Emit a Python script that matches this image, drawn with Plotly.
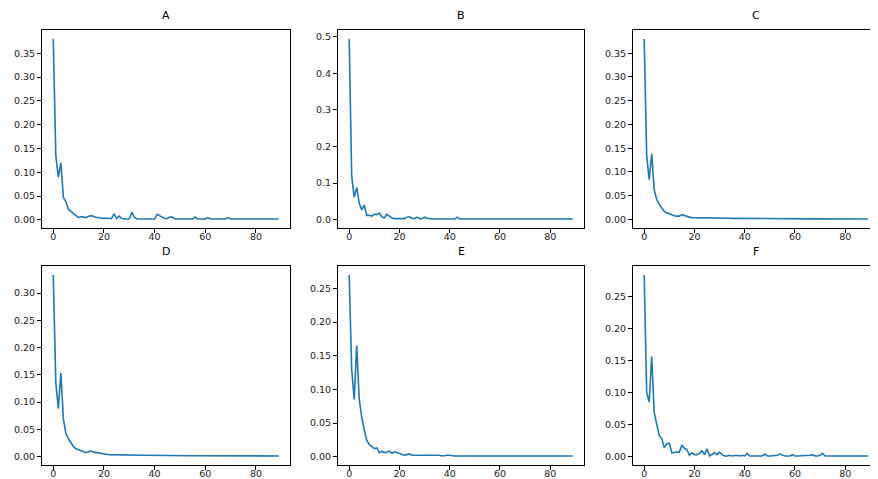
import plotly.graph_objects as go

LINE_COLOR = "#1f77b4"
FONT = "DejaVu Sans"

titles = ["A", "B", "C", "D", "E", "F"]
steps = list(range(90))

series_a = [
    0.380, 0.135, 0.090, 0.120, 0.047, 0.038, 0.022, 0.018, 0.013, 0.009,
    0.005, 0.007, 0.006, 0.005, 0.008, 0.009, 0.007, 0.005, 0.005, 0.003,
    0.004, 0.003, 0.003, 0.003, 0.013, 0.003, 0.008, 0.003, 0.002, 0.002,
    0.002, 0.016, 0.006, 0.002, 0.002, 0.002, 0.002, 0.002, 0.002, 0.002,
    0.002, 0.012, 0.009, 0.006, 0.003, 0.003, 0.006, 0.006, 0.002, 0.002,
    0.002, 0.002, 0.002, 0.002, 0.002, 0.002, 0.006, 0.002, 0.002, 0.002,
    0.002, 0.005, 0.002, 0.002, 0.002, 0.002, 0.002, 0.002, 0.002, 0.005,
    0.002, 0.002, 0.002, 0.002, 0.002, 0.002, 0.002, 0.002, 0.002, 0.002,
    0.002, 0.002, 0.002, 0.002, 0.002, 0.002, 0.002, 0.002, 0.002, 0.002,
]
series_b = [
    0.494, 0.120, 0.062, 0.088, 0.045, 0.027, 0.040, 0.012, 0.012, 0.010,
    0.015, 0.014, 0.018, 0.008, 0.005, 0.015, 0.010, 0.005, 0.003, 0.003,
    0.004, 0.003, 0.003, 0.007, 0.008, 0.004, 0.003, 0.007, 0.003, 0.003,
    0.007, 0.004, 0.002, 0.002, 0.002, 0.002, 0.002, 0.002, 0.002, 0.002,
    0.002, 0.002, 0.002, 0.007, 0.002, 0.002, 0.002, 0.002, 0.002, 0.002,
    0.002, 0.002, 0.002, 0.002, 0.002, 0.002, 0.002, 0.002, 0.002, 0.002,
    0.002, 0.002, 0.002, 0.002, 0.002, 0.002, 0.002, 0.002, 0.002, 0.002,
    0.002, 0.002, 0.002, 0.002, 0.002, 0.002, 0.002, 0.002, 0.002, 0.002,
    0.002, 0.002, 0.002, 0.002, 0.002, 0.002, 0.002, 0.002, 0.002, 0.002,
]
series_c = [
    0.380, 0.135, 0.084, 0.138, 0.062, 0.042, 0.032, 0.024, 0.017, 0.014,
    0.012, 0.009, 0.008, 0.007, 0.007, 0.010, 0.008, 0.006, 0.005, 0.004,
    0.004, 0.0035, 0.0033, 0.003, 0.003, 0.003, 0.003, 0.003, 0.003, 0.003,
    0.003, 0.0028, 0.0027, 0.0026, 0.0025, 0.0024, 0.0023, 0.0022, 0.0022, 0.0021,
    0.002, 0.002, 0.002, 0.002, 0.002, 0.002, 0.002, 0.002, 0.0019, 0.0019,
    0.0018, 0.0018, 0.0017, 0.0017, 0.0017, 0.0016, 0.0016, 0.0016, 0.0015, 0.0015,
    0.0015, 0.0014, 0.0014, 0.0014, 0.0013, 0.0013, 0.0013, 0.0012, 0.0012, 0.0012,
    0.0012, 0.0011, 0.0011, 0.0011, 0.0011, 0.0011, 0.001, 0.001, 0.001, 0.001,
    0.001, 0.001, 0.001, 0.001, 0.001, 0.001, 0.001, 0.001, 0.001, 0.001,
]
series_d = [
    0.333, 0.135, 0.088, 0.153, 0.068, 0.042, 0.032, 0.024, 0.018, 0.014,
    0.012, 0.010, 0.008, 0.007, 0.009, 0.010, 0.008, 0.007, 0.006, 0.005,
    0.004, 0.004, 0.0035, 0.0033, 0.0032, 0.003, 0.003, 0.003, 0.0029, 0.0028,
    0.0027, 0.0026, 0.0025, 0.0024, 0.0023, 0.0022, 0.0022, 0.0021, 0.002, 0.002,
    0.002, 0.002, 0.0019, 0.0019, 0.0018, 0.0018, 0.0018, 0.0017, 0.0017, 0.0017,
    0.0016, 0.0016, 0.0016, 0.0015, 0.0015, 0.0015, 0.0015, 0.0014, 0.0014, 0.0014,
    0.0016, 0.0013, 0.0013, 0.0013, 0.0013, 0.0012, 0.0012, 0.0012, 0.0012, 0.0012,
    0.0011, 0.0011, 0.0011, 0.0011, 0.0011, 0.0011, 0.0015, 0.001, 0.001, 0.001,
    0.001, 0.001, 0.001, 0.001, 0.001, 0.001, 0.001, 0.001, 0.001, 0.001,
]
series_e = [
    0.270, 0.130, 0.085, 0.165, 0.085, 0.058, 0.040, 0.024, 0.018, 0.015,
    0.012, 0.013, 0.006, 0.008, 0.006, 0.007, 0.008, 0.005, 0.007, 0.006,
    0.005, 0.003, 0.002, 0.003, 0.004, 0.002, 0.002, 0.002, 0.002, 0.003,
    0.002, 0.003, 0.003, 0.003, 0.002, 0.002, 0.002, 0.001, 0.002, 0.002,
    0.002, 0.001, 0.001, 0.001, 0.001, 0.001, 0.001, 0.001, 0.001, 0.001,
    0.001, 0.001, 0.001, 0.001, 0.001, 0.002, 0.001, 0.001, 0.001, 0.001,
    0.001, 0.002, 0.001, 0.001, 0.002, 0.001, 0.001, 0.001, 0.001, 0.002,
    0.001, 0.001, 0.001, 0.001, 0.001, 0.001, 0.001, 0.001, 0.001, 0.001,
    0.001, 0.001, 0.001, 0.002, 0.001, 0.001, 0.001, 0.001, 0.001, 0.001,
]
series_f = [
    0.283, 0.100, 0.085, 0.156, 0.068, 0.050, 0.033, 0.028, 0.014, 0.020,
    0.021, 0.006, 0.007, 0.007, 0.007, 0.018, 0.013, 0.011, 0.002, 0.006,
    0.003, 0.003, 0.005, 0.009, 0.003, 0.012, 0.001, 0.003, 0.006, 0.003,
    0.007, 0.003, 0.001, 0.001, 0.002, 0.001, 0.002, 0.002, 0.001, 0.002,
    0.001, 0.005, 0.001, 0.001, 0.001, 0.002, 0.001, 0.001, 0.004, 0.001,
    0.001, 0.001, 0.001, 0.002, 0.004, 0.002, 0.001, 0.001, 0.001, 0.003,
    0.001, 0.001, 0.001, 0.001, 0.001, 0.001, 0.002, 0.003, 0.001, 0.001,
    0.002, 0.005, 0.001, 0.001, 0.001, 0.001, 0.001, 0.001, 0.001, 0.001,
    0.001, 0.001, 0.001, 0.001, 0.002, 0.001, 0.001, 0.001, 0.001, 0.001,
]
all_series = [series_a, series_b, series_c, series_d, series_e, series_f]

x_ticks = [0, 20, 40, 60, 80]
y_tick_sets = [
    [0.0, 0.05, 0.10, 0.15, 0.20, 0.25, 0.30, 0.35],
    [0.0, 0.1, 0.2, 0.3, 0.4, 0.5],
    [0.0, 0.05, 0.10, 0.15, 0.20, 0.25, 0.30, 0.35],
    [0.0, 0.05, 0.10, 0.15, 0.20, 0.25, 0.30],
    [0.0, 0.05, 0.10, 0.15, 0.20, 0.25],
    [0.0, 0.05, 0.10, 0.15, 0.20, 0.25],
]
y_tick_formats = [".2f", ".1f", ".2f", ".2f", ".2f", ".2f"]

# pixel boxes of the six axes, taken from the 878x479 picture
W, H = 878, 479
col_px = [(34, 282), (330, 576), (625, 871)]
row_px = [(22, 220), (258, 457)]

fig = go.Figure()
annotations = []
for i, (title, values) in enumerate(zip(titles, all_series)):
    r, c = divmod(i, 3)
    n = i + 1
    xa = "x" if n == 1 else f"x{n}"
    ya = "y" if n == 1 else f"y{n}"
    fig.add_trace(
        go.Scatter(
            x=steps,
            y=values,
            mode="lines",
            line={"color": LINE_COLOR, "width": 1.6},
            xaxis=xa,
            yaxis=ya,
            showlegend=False,
        )
    )
    x0, x1 = col_px[c]
    top, bottom = row_px[r]
    x_dom = [x0 / W, x1 / W]
    y_dom = [1 - bottom / H, 1 - top / H]
    span = max(values) - min(values)
    axis_common = dict(
        showline=True,
        linecolor="black",
        linewidth=1,
        mirror=True,
        showgrid=False,
        zeroline=False,
        ticks="outside",
        ticklen=4,
        tickwidth=0.8,
        tickcolor="black",
        tickfont={"family": FONT, "size": 9.5, "color": "#222222"},
    )
    fig.layout[f"xaxis{'' if n == 1 else n}"] = dict(
        domain=x_dom,
        anchor=ya,
        range=[-4.45, 93.45],
        tickvals=x_ticks,
        ticklabelstandoff=-4,
        **axis_common,
    )
    fig.layout[f"yaxis{'' if n == 1 else n}"] = dict(
        domain=y_dom,
        anchor=xa,
        range=[min(values) - 0.05 * span, max(values) + 0.05 * span],
        tickvals=y_tick_sets[i],
        tickformat=y_tick_formats[i],
        **axis_common,
    )
    annotations.append(
        dict(
            text=title,
            x=(x_dom[0] + x_dom[1]) / 2,
            y=y_dom[1],
            xref="paper",
            yref="paper",
            xanchor="center",
            yanchor="bottom",
            yshift=6,
            showarrow=False,
            font={"family": FONT, "size": 11, "color": "black"},
        )
    )

fig.update_layout(
    width=W,
    height=H,
    margin={"l": 0, "r": 0, "t": 0, "b": 0},
    paper_bgcolor="white",
    plot_bgcolor="white",
    annotations=annotations,
)
fig.write_html("out.html")
